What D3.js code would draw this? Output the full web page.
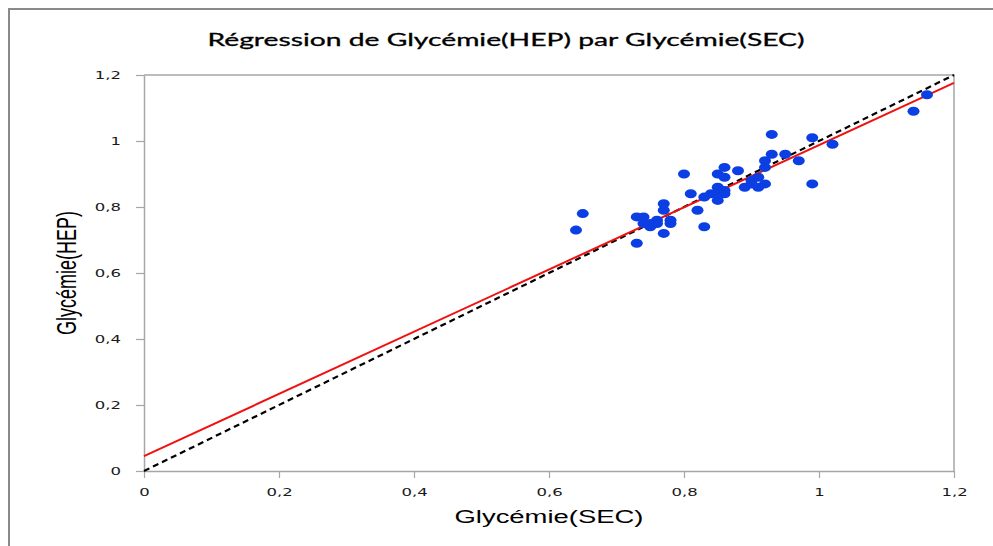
<!DOCTYPE html>
<html>
<head>
<meta charset="utf-8">
<script src="https://cdn.jsdelivr.net/npm/d3@7"></script>
<style>
  body { margin: 0; background: #fff; }
  svg { display: block; }
</style>
</head>
<body>
<div id="chart"></div>
<script>
// taille de la fenêtre
const width = 993
const height = 546
const margin = { top: 75, right: 39, bottom: 75, left: 144 }

// données
const glySEC = [0.64, 0.65, 0.73, 0.73, 0.74, 0.74, 0.75, 0.75, 0.76, 0.76, 0.77, 0.77, 0.77, 0.78, 0.78,
                0.80, 0.81, 0.82, 0.83, 0.83, 0.84, 0.85, 0.85, 0.85, 0.85, 0.86, 0.86, 0.86, 0.86,
                0.88, 0.89, 0.90, 0.90, 0.91, 0.91, 0.92, 0.92, 0.92, 0.93, 0.93, 0.95, 0.97,
                0.99, 0.99, 1.02, 1.14, 1.16]
const glyHEP = [0.73, 0.78, 0.77, 0.69, 0.77, 0.75, 0.74, 0.75, 0.76, 0.75, 0.81, 0.79, 0.72, 0.76, 0.75,
                0.90, 0.84, 0.79, 0.74, 0.83, 0.84, 0.90, 0.86, 0.84, 0.82, 0.92, 0.89, 0.85, 0.84,
                0.91, 0.86, 0.88, 0.87, 0.89, 0.86, 0.87, 0.94, 0.92, 1.02, 0.96, 0.96, 0.94,
                1.01, 0.87, 0.99, 1.09, 1.14]

// droite de régression (rouge) et bissectrice y = x (pointillés)
const regIntercept = 0.045
const regSlope = 0.9425
const lineRange = [0, 1.2]

// graduations
const xTicks = [0, 0.2, 0.4, 0.6, 0.8, 1, 1.2]
const yTicks = [0, 0.2, 0.4, 0.6, 0.8, 1, 1.2]

const titleText = "Régression de Glycémie(HEP) par Glycémie(SEC)"
const xLabel = "Glycémie(SEC)"
const yLabel = "Glycémie(HEP)"

const points = glySEC.map((d, i) => ({ sec: d, hep: glyHEP[i] }))
const fmt = d => String(d).replace(".", ",")
const stretch = 1.5 // l'image d'origine est étirée horizontalement

const svg = d3.select("#chart")
  .append("svg")
  .attr("width", width)
  .attr("height", height)

// cadre extérieur (haut et gauche)
svg.append("path")
  .attr("d", `M9,${height} L9,9 L${width},9`)
  .attr("fill", "none")
  .attr("stroke", "#8a8a8a")
  .attr("stroke-width", 2)

const x = d3.scaleLinear().domain([0, 1.2]).range([margin.left, width - margin.right])
const y = d3.scaleLinear().domain([0, 1.2]).range([height - margin.bottom, margin.top])

// bord du cadre de tracé (haut et droite)
svg.append("path")
  .attr("d", `M${x(0)},${y(1.2)} L${x(1.2)},${y(1.2)} L${x(1.2)},${y(0)}`)
  .attr("fill", "none")
  .attr("stroke", "#a6a6a6")
  .attr("stroke-width", 1.5)

// axes
const xAxis = d3.axisBottom(x).tickValues(xTicks).tickFormat(fmt).tickSize(7).tickSizeOuter(0)
const yAxis = d3.axisLeft(y).tickValues(yTicks).tickFormat(fmt).tickSize(8).tickSizeOuter(0)

const xAxisGroup = svg.append("g")
  .attr("transform", `translate(0,${y(0)})`)
  .call(xAxis)
const yAxisGroup = svg.append("g")
  .attr("transform", `translate(${x(0)},0)`)
  .call(yAxis)

for (const g of [xAxisGroup, yAxisGroup]) {
  g.select(".domain").attr("stroke", "#a6a6a6").attr("stroke-width", 1.5)
  g.selectAll(".tick line").attr("stroke", "#a6a6a6").attr("stroke-width", 1.2)
  g.selectAll(".tick text")
    .attr("fill", "#1a1a1a")
    .style("font-family", "DejaVu Sans, Verdana, sans-serif")
    .style("font-size", "11px")
}
xAxisGroup.selectAll(".tick text")
  .attr("y", 0)
  .attr("dy", 0)
  .attr("transform", `translate(0,25) scale(${stretch},1)`)
yAxisGroup.selectAll(".tick text")
  .attr("x", 0)
  .attr("dy", "0.35em")
  .attr("transform", `translate(-23,0) scale(${stretch},1)`)

// bissectrice
svg.append("line")
  .attr("x1", x(lineRange[0])).attr("y1", y(lineRange[0]))
  .attr("x2", x(lineRange[1])).attr("y2", y(lineRange[1]))
  .attr("stroke", "#000")
  .attr("stroke-width", 2.2)
  .attr("stroke-dasharray", "6,4")

// droite de régression
svg.append("line")
  .attr("x1", x(lineRange[0])).attr("y1", y(regIntercept + regSlope * lineRange[0]))
  .attr("x2", x(lineRange[1])).attr("y2", y(regIntercept + regSlope * lineRange[1]))
  .attr("stroke", "#f01010")
  .attr("stroke-width", 2)

// points
svg.append("g")
  .selectAll("ellipse")
  .data(points)
  .join("ellipse")
  .attr("cx", d => x(d.sec))
  .attr("cy", d => y(d.hep))
  .attr("rx", 6)
  .attr("ry", 4.5)
  .attr("fill", "#0b3fe3")

// titre
svg.append("text")
  .attr("x", 506)
  .attr("y", 46)
  .attr("text-anchor", "middle")
  .attr("textLength", 597)
  .attr("lengthAdjust", "spacingAndGlyphs")
  .style("font-family", "Lato, 'Open Sans', sans-serif")
  .style("font-size", "17px")
  .attr("fill", "#000")
  .attr("stroke", "#000")
  .attr("stroke-width", 0.3)
  .text(titleText)

// titres des axes
svg.append("text")
  .attr("x", (x(0) + x(1.2)) / 2)
  .attr("y", 523)
  .attr("text-anchor", "middle")
  .attr("textLength", 189)
  .attr("lengthAdjust", "spacingAndGlyphs")
  .style("font-family", "'Liberation Sans', Arial, sans-serif")
  .style("font-size", "18px")
  .attr("fill", "#000")
  .text(xLabel)

svg.append("text")
  .attr("transform", `translate(76,${(y(0) + y(1.2)) / 2}) scale(${stretch},1) rotate(-90)`)
  .attr("text-anchor", "middle")
  .style("font-family", "'Liberation Sans', Arial, sans-serif")
  .style("font-size", "18px")
  .attr("fill", "#000")
  .text(yLabel)
</script>
</body>
</html>
